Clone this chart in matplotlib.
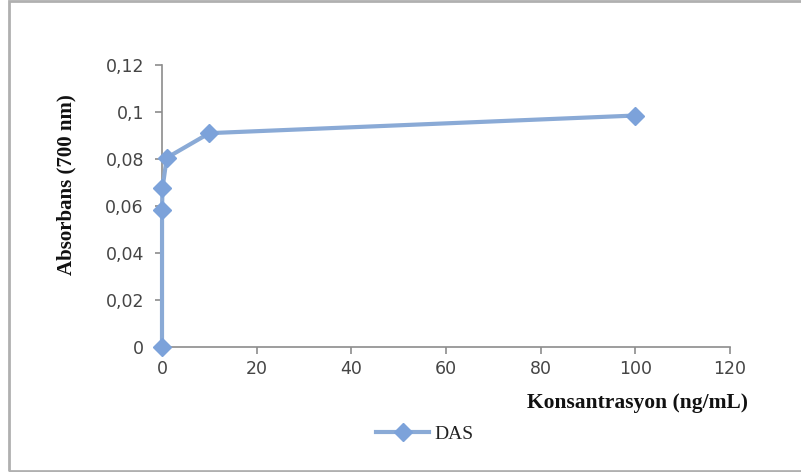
import matplotlib
matplotlib.use("Agg")
import matplotlib.pyplot as plt
from matplotlib.patches import Rectangle

# Concentration (ng/mL) and absorbance at 700 nm
concentration = [0, 0.01, 0.1, 1, 10, 100]
absorbance = [0.0, 0.0585, 0.0675, 0.0805, 0.0910, 0.0985]
series_name = "DAS"

x_ticks = [0, 20, 40, 60, 80, 100, 120]
y_ticks = [0, 0.02, 0.04, 0.06, 0.08, 0.1, 0.12]
y_tick_labels = ["0", "0,02", "0,04", "0,06", "0,08", "0,1", "0,12"]

line_color = "#8aaad6"
marker_color = "#7ca2da"
axis_color = "#8c8c8c"
text_color = "#454545"

fig = plt.figure(figsize=(8.01, 4.72), dpi=100)
ax = fig.add_axes([162 / 801, 1 - 347 / 472, (730 - 162) / 801, (347 - 65) / 472])

ax.plot(concentration, absorbance, color=line_color, lw=3,
        marker="D", markersize=9, markerfacecolor=marker_color,
        markeredgecolor=marker_color, label=series_name,
        solid_joinstyle="round", clip_on=False, zorder=5)

ax.set_xlim(0, 120)
ax.set_ylim(0, 0.12)
ax.set_xticks(x_ticks)
ax.set_xticklabels([str(v) for v in x_ticks])
ax.set_yticks(y_ticks)
ax.set_yticklabels(y_tick_labels)

for side in ("top", "right"):
    ax.spines[side].set_visible(False)
for side in ("left", "bottom"):
    ax.spines[side].set_color(axis_color)
    ax.spines[side].set_linewidth(1.2)

ax.tick_params(axis="both", direction="out", length=5, width=1.2,
               color=axis_color, labelcolor=text_color, labelsize=12.5)
ax.tick_params(axis="x", pad=4)
ax.tick_params(axis="y", pad=8)
for lbl in ax.get_xticklabels() + ax.get_yticklabels():
    lbl.set_fontfamily("DejaVu Sans")

ax.set_xlabel("Konsantrasyon (ng/mL)", fontfamily="Liberation Serif",
              fontweight="bold", fontsize=15.5, color="#111111",
              ha="right", va="center")
ax.xaxis.set_label_coords((748 - 162) / 568, (347 - 403) / 282)

ax.set_ylabel("Absorbans (700 nm)", fontfamily="Liberation Serif",
              fontweight="bold", fontsize=15, color="#111111",
              va="center")
ax.yaxis.set_label_coords((66 - 162) / 568, (347 - 185) / 282)

leg = fig.legend(loc="center", bbox_to_anchor=(425 / 801, 1 - 434 / 472),
                 frameon=False, handlelength=2.7, handletextpad=0.3,
                 prop={"family": "Liberation Serif", "size": 14})
for t in leg.get_texts():
    t.set_color("#222222")

# Outer chart frame
fig.patches.append(Rectangle((9 / 801, 1 / 472), 1.0, 470 / 472,
                             transform=fig.transFigure, fill=False,
                             edgecolor="#b0b0b0", linewidth=2))

fig.savefig("out.png", dpi=100)
